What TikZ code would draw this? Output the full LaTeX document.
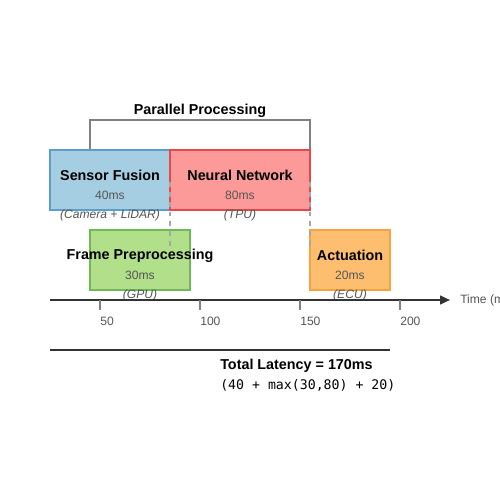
\documentclass[tikz,border=0pt]{standalone}
\usepackage{fontspec}
\setmainfont{Liberation Sans}
\setmonofont{DejaVu Sans Mono}
\usetikzlibrary{arrows.meta}

\definecolor{fusionfill}{HTML}{A6CEE3}
\definecolor{fusionline}{HTML}{5B9DCF}
\definecolor{neuralfill}{HTML}{FB9A99}
\definecolor{neuralline}{HTML}{E4494B}
\definecolor{prepfill}{HTML}{B2DF8A}
\definecolor{prepline}{HTML}{6DB956}
\definecolor{actfill}{HTML}{FDBF6F}
\definecolor{actline}{HTML}{F7A23E}
\definecolor{textgray}{HTML}{555555}
\definecolor{axisgray}{HTML}{333333}

\tikzset{
  taskbox/.style={draw, line width=1pt, minimum height=1.5cm, inner sep=0pt},
  taskname/.style={inner sep=0pt, font=\fontsize{10.2}{12}\selectfont\bfseries},
  taskms/.style={inner sep=0pt, text=textgray, font=\fontsize{8.6}{10}\selectfont},
  taskdev/.style={inner sep=0pt, text=textgray, font=\fontsize{8.6}{10}\selectfont\itshape},
  bracket/.style={draw=gray, line width=1.1pt},
  syncline/.style={draw=gray!70, line width=1.2pt, dash pattern=on 3.5pt off 3.5pt},
  tick/.style={draw=gray, line width=1.1pt},
  ticklabel/.style={inner sep=0pt, anchor=west, text=textgray, font=\fontsize{8.6}{10}\selectfont}
}

\begin{document}
\begin{tikzpicture}[x=0.025cm, y=-0.025cm]
    \useasboundingbox[fill=white] (0,0) rectangle (500,500);

    % Title and bracket over the parallel stages
    \node[taskname] (title) at (200,110.5) {Parallel Processing};
    \coordinate (brL) at (90,150);
    \coordinate (brR) at (310,150);
    \draw[bracket] (brL) -- ++(0,-30) -| (brR);

    % Task boxes
    \node[taskbox, fill=fusionfill, draw=fusionline, minimum width=3cm] (fusion) at (110,180) {};
    \node[taskbox, fill=neuralfill, draw=neuralline, minimum width=3.5cm] (neural) at (240,180) {};
    \node[taskbox, fill=prepfill, draw=prepline, minimum width=2.5cm] (prep) at (140,260) {};
    \node[taskbox, fill=actfill, draw=actline, minimum width=2cm] (act) at (350,260) {};

    % Sensor Fusion labels
    \node[taskname] (fusionname) at (110,175.5) {Sensor Fusion};
    \node[taskms] (fusionms) at (110,195.5) {40ms};
    \node[taskdev] (fusiondev) at (110,215.5) {(Camera + LiDAR)};

    % Neural Network labels
    \node[taskname] (neuralname) at (240,175.5) {Neural Network};
    \node[taskms] (neuralms) at (240,195.5) {80ms};
    \node[taskdev] (neuraldev) at (240,215.5) {(TPU)};

    % Frame Preprocessing labels
    \node[taskname] (prepname) at (140,255.5) {Frame Preprocessing};
    \node[taskms] (prepms) at (140,275.5) {30ms};
    \node[taskdev] (prepdev) at (140,295.5) {(GPU)};

    % Actuation labels
    \node[taskname] (actname) at (350,255.5) {Actuation};
    \node[taskms] (actms) at (350,275.5) {20ms};
    \node[taskdev] (actdev) at (350,295.5) {(ECU)};

    % Sync lines
    \coordinate (syncAtop) at (170,182);
    \coordinate (syncAbot) at (170,247);
    \coordinate (syncBtop) at (310,182);
    \coordinate (syncBbot) at (310,247);
    \draw[syncline] (syncAtop) -- (syncAbot);
    \draw[syncline] (syncBtop) -- (syncBbot);

    % Time axis
    \coordinate (axisstart) at (50,300);
    \coordinate (axisend) at (450,300);
    \draw[axisgray, line width=1.4pt, -{Triangle[length=0.25cm, width=0.22cm]}] (axisstart) -- (axisend);
    \node[ticklabel] (axislabel) at (460,300.5) {Time (ms)};
    \foreach \x/\t in {100/50, 200/100, 300/150, 400/200} {
        \draw[tick] (\x,300) -- (\x,310);
        \node[ticklabel] at (\x,321.5) {\t};
    }

    % Total latency
    \coordinate (totalL) at (50,350);
    \coordinate (totalR) at (390,350);
    \draw[axisgray, line width=1.4pt] (totalL) -- (totalR);
    \node[taskname, anchor=west] (total) at (220,365.5) {Total Latency = 170ms};
    \node[inner sep=0pt, anchor=west, font=\fontsize{9.4}{11}\selectfont\ttfamily] (formula) at (220,385.5) {(40 + max(30,80) + 20)};

\end{tikzpicture}
\end{document}
